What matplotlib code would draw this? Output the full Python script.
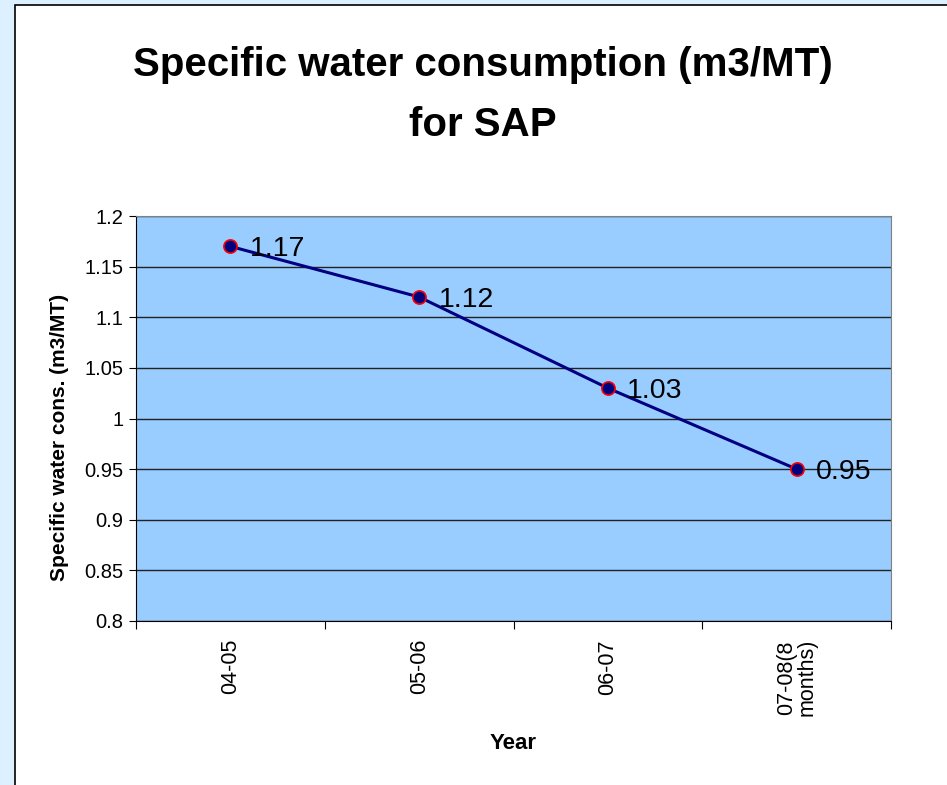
import matplotlib
matplotlib.use("Agg")
import matplotlib.pyplot as plt
from matplotlib.patches import Rectangle

categories = ["04-05", "05-06", "06-07", "07-08(8\nmonths)"]
values = [1.17, 1.12, 1.03, 0.95]
value_labels = ["1.17", "1.12", "1.03", "0.95"]
yticks = [0.8, 0.85, 0.9, 0.95, 1.0, 1.05, 1.1, 1.15, 1.2]
ytick_labels = ["0.8", "0.85", "0.9", "0.95", "1", "1.05", "1.1", "1.15", "1.2"]

plt.rcParams['font.family'] = ['Liberation Sans', 'DejaVu Sans']

W, H = 947, 785
fig = plt.figure(figsize=(W / 100, H / 100), dpi=100)
fig.patch.set_facecolor('#DDF0FF')

# white chart frame
fig.patches.append(Rectangle((15 / W, -0.05), 1.1, 1.05 - 5 / H, transform=fig.transFigure,
                             facecolor='white', edgecolor='black', linewidth=1.2, zorder=-10))

ax = fig.add_axes([136 / W, 1 - 621 / H, (891 - 136) / W, (621 - 216) / H])
ax.set_zorder(5)
ax.set_facecolor('#99CCFF')

x = list(range(len(categories)))
ax.plot(x, values, color='#000080', linewidth=2.2, zorder=3,
        marker='o', markersize=9.5, markerfacecolor='#000080', markeredgecolor='red',
        markeredgewidth=1.2)
for xi, v, lab in zip(x, values, value_labels):
    ax.annotate(lab, (xi, v), xytext=(14, -2), textcoords='offset points',
                ha='left', va='center', fontsize=20.5, color='black', zorder=4)

ax.set_xlim(-0.5, len(categories) - 0.5)
ax.set_ylim(0.8, 1.2)
ax.set_yticks(yticks)
ax.set_yticklabels(ytick_labels, fontsize=14.5)
ax.yaxis.grid(True, color='#222222', linewidth=1)
ax.set_axisbelow(True)

ax.set_xticks([i - 0.5 for i in range(len(categories) + 1)], minor=False)
ax.set_xticklabels([])
ax.set_xticks(x, minor=True)
ax.set_xticklabels(categories, minor=True, rotation=90, fontsize=15.5,
                   va='top', ha='center', linespacing=1.0)
ax.tick_params(axis='x', which='minor', length=0, pad=13)
ax.tick_params(axis='x', which='major', length=6, direction='out', color='black')
ax.tick_params(axis='y', length=5, direction='out', color='black', pad=4)

for s in ['top', 'right']:
    ax.spines[s].set_color('#808080')
for s in ['left', 'bottom']:
    ax.spines[s].set_color('black')

ax.set_xlabel('Year', fontsize=16, fontweight='bold', labelpad=12)
ax.set_ylabel('Specific water cons. (m3/MT)', fontsize=15, fontweight='bold',
              va='center', ha='center')
ax.yaxis.set_label_coords((60 - 136) / 755, 1 - (437 - 216) / 405)

fig.text(483 / W, 1 - 65 / H, 'Specific water consumption (m3/MT)', ha='center', va='center',
         fontsize=29, fontweight='bold')
fig.text(483 / W, 1 - 125 / H, 'for SAP', ha='center', va='center',
         fontsize=29, fontweight='bold')

fig.savefig('out.png', dpi=100, facecolor=fig.get_facecolor())
